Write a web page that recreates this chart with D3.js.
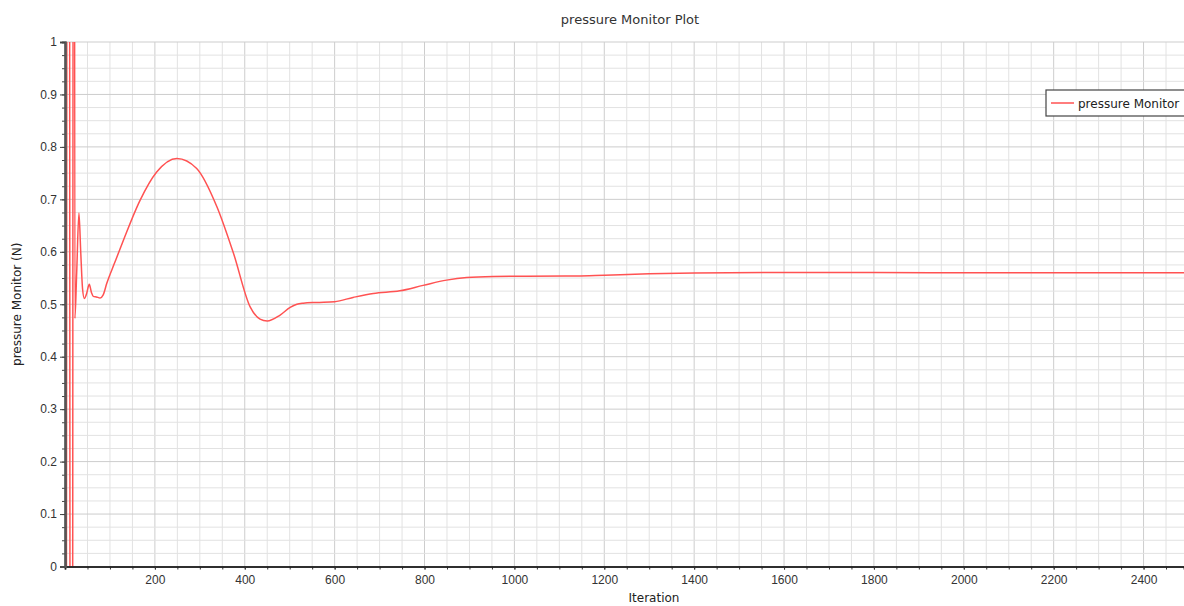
<!DOCTYPE html>
<html>
<head>
<meta charset="utf-8">
<script src="https://cdn.jsdelivr.net/npm/d3@7"></script>
<style>
  body { margin: 0; background: #fff; }
  svg { display: block; font-family: "DejaVu Sans", sans-serif; }
</style>
</head>
<body>
<svg id="chart" width="1184" height="606"></svg>
<script>
// iteration / value pairs
const iterations = [1, 8, 14, 20, 22, 26, 31, 35, 39, 43, 48, 54, 59, 63, 70, 78, 85, 93,
  110, 130, 167, 204, 249, 293, 338, 375, 412, 434, 450, 478, 501, 516, 530, 560, 600, 641, 686, 745,
  797, 849, 894, 953, 1027, 1138, 1200, 1300, 1400, 1597, 1800, 1986, 2200, 2490]
const pressure = [-3.0, 3.5, -3.5, 3.0, 0.473, 0.56, 0.674, 0.60, 0.53, 0.511, 0.52, 0.538, 0.522, 0.515, 0.514, 0.512, 0.518, 0.540,
  0.578, 0.622, 0.698, 0.752, 0.778, 0.759, 0.686, 0.597, 0.495, 0.4716, 0.468, 0.479, 0.494, 0.500, 0.502, 0.5035, 0.505, 0.513, 0.5206, 0.5256,
  0.536, 0.546, 0.551, 0.553, 0.5535, 0.554, 0.5555, 0.558, 0.5595, 0.5606, 0.5605, 0.5600, 0.5600, 0.5600]
const xTickLabels = [200, 400, 600, 800, 1000, 1200, 1400, 1600, 1800, 2000, 2200, 2400]
const yTickLabels = [0, 0.1, 0.2, 0.3, 0.4, 0.5, 0.6, 0.7, 0.8, 0.9, 1]

const svg = d3.select('#chart')
const plotLeft = 65, plotRight = 1184, plotTop = 42, plotBottom = 566.5

const x = d3.scaleLinear().domain([0, 2490]).range([plotLeft, plotRight])
const y = d3.scaleLinear().domain([0, 1]).range([plotBottom, plotTop])

const data = iterations.map((it, i) => ({ it: it, v: pressure[i] }))

// grid
const xMinor = d3.range(50, 2490, 50)
const yMinor = d3.range(0.025, 1.0001, 0.025)

svg.append('g').selectAll('line')
  .data(xMinor)
  .enter().append('line')
  .attr('x1', d => x(d)).attr('x2', d => x(d))
  .attr('y1', plotTop).attr('y2', plotBottom)
  .style('stroke', d => d % 200 === 0 ? '#cdcdcd' : '#e2e2e2')
  .style('stroke-width', 1)

svg.append('g').selectAll('line')
  .data(yMinor)
  .enter().append('line')
  .attr('x1', plotLeft).attr('x2', plotRight)
  .attr('y1', d => y(d)).attr('y2', d => y(d))
  .style('stroke', d => Math.abs(d * 10 - Math.round(d * 10)) < 1e-6 ? '#cdcdcd' : '#e2e2e2')
  .style('stroke-width', 1)

// the curve, clipped to the plot area
svg.append('clipPath').attr('id', 'plotClip')
  .append('rect').attr('x', plotLeft).attr('y', plotTop)
  .attr('width', plotRight - plotLeft).attr('height', plotBottom - plotTop)

const line = d3.line()
  .x(d => x(d.it))
  .y(d => y(d.v))
  .curve(d3.curveMonotoneX)

svg.append('path')
  .datum(data)
  .attr('clip-path', 'url(#plotClip)')
  .attr('d', line)
  .style('fill', 'none')
  .style('stroke', '#ff5252')
  .style('stroke-width', 1.5)

// axes
const xAxis = d3.axisBottom(x).tickValues(xTickLabels).tickSize(3).tickPadding(6).tickFormat(d3.format('d'))
const xAxisMinor = d3.axisBottom(x).tickValues(xMinor).tickSize(3).tickFormat('')
const yAxis = d3.axisLeft(y).tickValues(yTickLabels).tickSize(5).tickPadding(3)
  .tickFormat(d => d === 0 || d === 1 ? d3.format('d')(d) : d3.format('.1f')(d))
const yAxisMinor = d3.axisLeft(y).tickValues(yMinor).tickSize(3).tickFormat('')

const gxm = svg.append('g').attr('transform', `translate(0,${plotBottom})`).call(xAxisMinor)
const gx = svg.append('g').attr('transform', `translate(0,${plotBottom})`).call(xAxis)
const gym = svg.append('g').attr('transform', `translate(${plotLeft},0)`).call(yAxisMinor)
const gy = svg.append('g').attr('transform', `translate(${plotLeft},0)`).call(yAxis)

;[gxm, gx].forEach(g => {
  g.select('.domain').style('stroke', '#222').style('stroke-width', 1.5)
  g.selectAll('.tick line').style('stroke', '#333')
})
;[gym, gy].forEach(g => {
  g.select('.domain').style('stroke', '#555').style('stroke-width', 2.2)
  g.selectAll('.tick line').style('stroke', '#444')
})
gx.selectAll('text').style('font-size', '12px').style('fill', '#333')
gy.selectAll('text').style('font-size', '12px').style('fill', '#333')

// titles
svg.append('text')
  .attr('x', 630).attr('y', 24)
  .attr('text-anchor', 'middle')
  .style('font-size', '13px').style('fill', '#333')
  .text('pressure Monitor Plot')

svg.append('text')
  .attr('x', 654).attr('y', 602)
  .attr('text-anchor', 'middle')
  .style('font-size', '12px').style('fill', '#222')
  .text('Iteration')

svg.append('text')
  .attr('transform', `translate(21,${(plotTop + plotBottom) / 2}) rotate(-90)`)
  .attr('text-anchor', 'middle')
  .style('font-size', '12px').style('fill', '#222')
  .text('pressure Monitor (N)')

// legend (runs off the right edge like the original)
const legend = svg.append('g').attr('transform', 'translate(1046,90)')
legend.append('rect')
  .attr('width', 160).attr('height', 26)
  .style('fill', '#fff').style('stroke', '#444').style('stroke-width', 1.2)
legend.append('line')
  .attr('x1', 5).attr('x2', 28).attr('y1', 13).attr('y2', 13)
  .style('stroke', '#ff5252').style('stroke-width', 1.5)
legend.append('text')
  .attr('x', 32).attr('y', 17.5)
  .style('font-size', '12px').style('fill', '#222')
  .text('pressure Monitor')
</script>
</body>
</html>
